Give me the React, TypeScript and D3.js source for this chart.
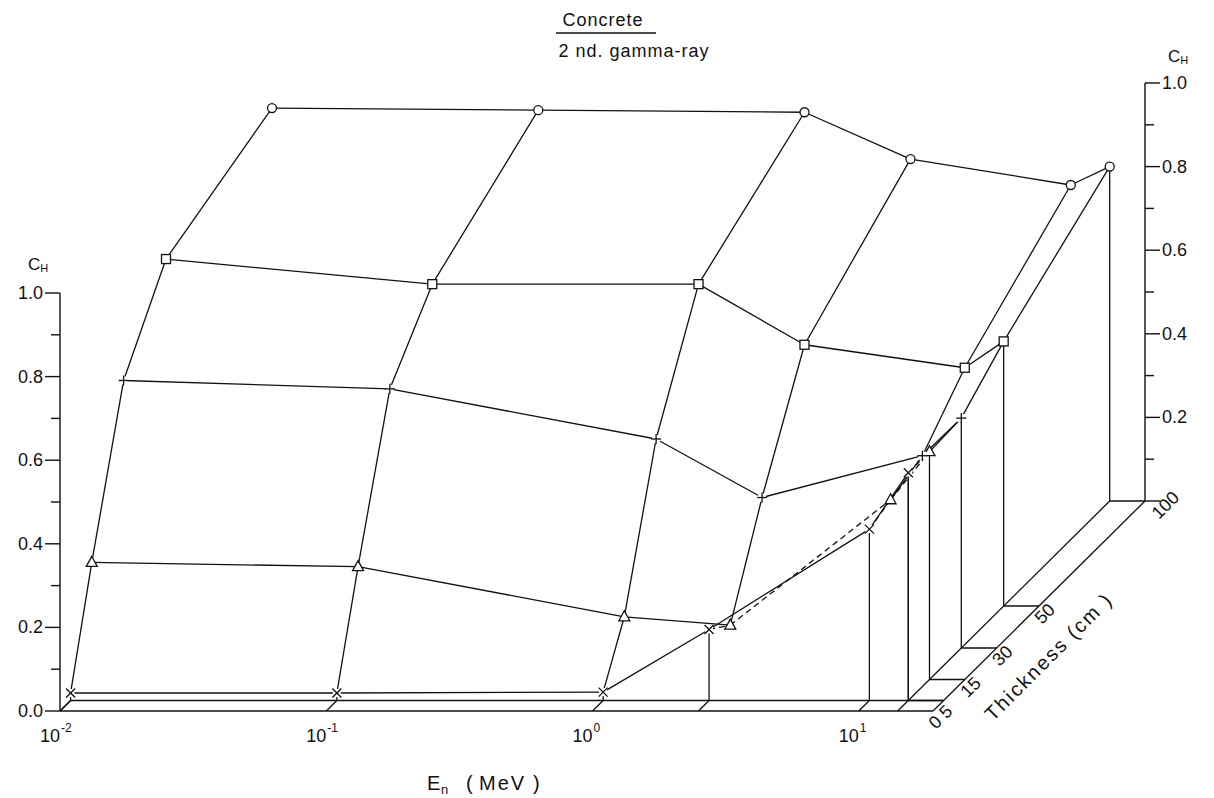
import React from "react";
import * as d3 from "d3";

// neutron energy grid (MeV) and slab thicknesses (cm)
const energies = [0.01, 0.1, 1, 2.5, 10, 14];
const thicknesses = [5, 15, 30, 50, 100];
const depthTicks = [0, 5, 15, 30, 50, 100];
const energyTicks = [0.01, 0.1, 1, 10];
const energyExp = ["-2", "-1", "0", "1"];
const chTicks = [0, 0.1, 0.2, 0.3, 0.4, 0.5, 0.6, 0.7, 0.8, 0.9, 1.0];
const eMax = 19;

// C_H values per thickness row, one per energy
const ch5 = [0.018, 0.018, 0.02, 0.17, 0.41, 0.545];
const ch15 = [0.28, 0.27, 0.15, 0.13, 0.43, 0.545];
const ch30 = [0.64, 0.62, 0.5, 0.36, 0.46, 0.55];
const ch50 = [0.83, 0.77, 0.77, 0.625, 0.57, 0.633];
const ch100 = [0.94, 0.935, 0.93, 0.818, 0.756, 0.8];
const rows = [ch5, ch15, ch30, ch50, ch100];
const markers = ["x", "triangle", "plus", "square", "circle"];

const FONT = "'Liberation Sans', 'DejaVu Sans', sans-serif";
const INK = "#111";

export default function App() {
  const xE = d3.scaleLog().domain([0.01, eMax]).range([60, 933]);
  const yC = d3.scaleLinear().domain([0, 1]).range([711, 293]);
  const dX = d3.scaleLinear().domain([0, 100]).range([0, 212]);
  const dY = d3.scaleLinear().domain([0, 100]).range([0, 210]);

  const proj = (e: number, t: number, c: number): [number, number] => [
    xE(e) + dX(t),
    yC(c) - dY(t),
  ];

  type Seg = { a: [number, number]; b: [number, number]; dashed?: boolean };
  const segs: Seg[] = [];
  const last = energies.length - 1;
  const eLast = energies[last];

  // floor slab
  segs.push({ a: proj(0.01, 0, 0), b: proj(eMax, 0, 0) });
  segs.push({ a: proj(0.01, 5, 0), b: proj(eMax, 5, 0) });
  segs.push({ a: proj(0.01, 0, 0), b: proj(0.01, 5, 0) });
  segs.push({ a: proj(eMax, 0, 0), b: proj(eMax, 100, 0) });
  segs.push({ a: proj(eLast, 5, 0), b: proj(eLast, 100, 0) });
  energies.forEach((e, i) => {
    segs.push({ a: proj(e, 0, 0), b: proj(e, 5, 0) });
    // front curtain
    segs.push({ a: proj(e, 5, 0), b: proj(e, 5, ch5[i]) });
  });
  // right curtain
  thicknesses.forEach((t, r) => {
    segs.push({ a: proj(eLast, t, 0), b: proj(eLast, t, rows[r][last]) });
    segs.push({ a: proj(eLast, t, 0), b: proj(eMax, t, 0) });
  });

  // rows along energy
  rows.forEach((vals, r) => {
    const t = thicknesses[r];
    for (let i = 0; i < last; i++) {
      segs.push({
        a: proj(energies[i], t, vals[i]),
        b: proj(energies[i + 1], t, vals[i + 1]),
        dashed: r === 1 && i >= 3,
      });
    }
  });
  // columns along thickness
  energies.forEach((e, i) => {
    for (let r = 0; r < thicknesses.length - 1; r++) {
      segs.push({
        a: proj(e, thicknesses[r], rows[r][i]),
        b: proj(e, thicknesses[r + 1], rows[r + 1][i]),
        dashed: r === 0 && i >= 3,
      });
    }
  });

  const renderMarker = (kind: string, x: number, y: number, key: string) => {
    const sw = 1.3;
    if (kind === "circle")
      return <circle key={key} cx={x} cy={y} r={4.5} fill="#fff" stroke={INK} strokeWidth={sw} />;
    if (kind === "square")
      return <rect key={key} x={x - 4.5} y={y - 4.5} width={9} height={9} fill="#fff" stroke={INK} strokeWidth={sw} />;
    if (kind === "triangle")
      return (
        <path key={key} d={`M${x},${y - 6}L${x + 5.5},${y + 4}L${x - 5.5},${y + 4}Z`} fill="#fff" stroke={INK} strokeWidth={sw} />
      );
    if (kind === "plus")
      return (
        <g key={key} stroke={INK} strokeWidth={sw}>
          <rect x={x - 4} y={y - 4} width={8} height={8} fill="#fff" stroke="none" />
          <line x1={x - 5} y1={y} x2={x + 5} y2={y} />
          <line x1={x} y1={y - 5} x2={x} y2={y + 5} />
        </g>
      );
    return (
      <g key={key} stroke={INK} strokeWidth={sw}>
        <rect x={x - 4} y={y - 4} width={8} height={8} fill="#fff" stroke="none" />
        <line x1={x - 4.5} y1={y - 4.5} x2={x + 4.5} y2={y + 4.5} />
        <line x1={x - 4.5} y1={y + 4.5} x2={x + 4.5} y2={y - 4.5} />
      </g>
    );
  };

  const leftX = xE(0.01);
  const rightX = xE(eMax) + dX(100);
  const [, backBase] = proj(eMax, 100, 0);

  return (
    <svg width={1214} height={798} style={{ display: "block", position: "absolute", left: 0, top: 0, background: "#fff" }}>
      {/* title */}
      <g fontFamily={FONT} fill={INK} textAnchor="middle">
        <text x={603} y={26} fontSize={18} letterSpacing={1}>Concrete</text>
        <line x1={556} y1={33} x2={656} y2={33} stroke={INK} strokeWidth={1.3} />
        <text x={634} y={57} fontSize={18} letterSpacing={1}>2 nd. gamma-ray</text>
      </g>

      {/* segments */}
      <g stroke={INK} strokeWidth={1.3} fill="none">
        {segs.map((s, i) => (
          <line key={i} x1={s.a[0]} y1={s.a[1]} x2={s.b[0]} y2={s.b[1]} strokeDasharray={s.dashed ? "6,4" : undefined} />
        ))}
      </g>

      {/* left axis */}
      <g stroke={INK} strokeWidth={1.4}>
        <line x1={leftX} y1={yC(0)} x2={leftX} y2={yC(1)} />
        {chTicks.map((c, i) => (
          <line key={i} x1={leftX} y1={yC(c)} x2={leftX - (i % 2 === 0 ? 15 : 9)} y2={yC(c)} />
        ))}
      </g>
      <g fontFamily={FONT} fontSize={18} fill={INK} textAnchor="end">
        {chTicks.filter((_, i) => i % 2 === 0).map((c) => (
          <text key={c} x={leftX - 17} y={yC(c) + 6}>{c.toFixed(1)}</text>
        ))}
      </g>
      <text x={28} y={270} fontFamily={FONT} fontSize={17} fill={INK}>
        C<tspan fontSize={11} dy={2}>H</tspan>
      </text>

      {/* right axis */}
      <g stroke={INK} strokeWidth={1.4}>
        <line x1={rightX} y1={backBase} x2={rightX} y2={yC(1) - dY(100)} />
        {chTicks.map((c, i) => (
          <line key={i} x1={rightX} y1={yC(c) - dY(100)} x2={rightX + (i % 2 === 0 ? 15 : 9)} y2={yC(c) - dY(100)} />
        ))}
      </g>
      <g fontFamily={FONT} fontSize={18} fill={INK} textAnchor="start">
        {chTicks.filter((c, i) => i % 2 === 0 && c > 0).map((c) => (
          <text key={c} x={rightX + 17} y={yC(c) - dY(100) + 6}>{c.toFixed(1)}</text>
        ))}
      </g>
      <text x={1168} y={62} fontFamily={FONT} fontSize={17} fill={INK}>
        C<tspan fontSize={11} dy={2}>H</tspan>
      </text>

      {/* energy axis labels */}
      <g fontFamily={FONT} fill={INK}>
        {energyTicks.map((e, i) => (
          <g key={e}>
            <text x={xE(e)} y={742} fontSize={18} textAnchor="end">10</text>
            <text x={xE(e) + 1} y={732} fontSize={12} textAnchor="start">{energyExp[i]}</text>
          </g>
        ))}
        <text x={427} y={790} fontSize={20}>E</text>
        <text x={441} y={794} fontSize={13}>n</text>
        <text x={466} y={790} fontSize={20}>(</text>
        <text x={479} y={790} fontSize={20} letterSpacing={2}>MeV</text>
        <text x={533} y={790} fontSize={20}>)</text>
      </g>

      {/* thickness labels */}
      <g fontFamily={FONT} fontSize={18} fill={INK}>
        {depthTicks.map((t) => {
          const [x, y] = proj(eMax, t, 0);
          const off = t === 100 ? 14 : 3;
          return (
            <text key={t} transform={`translate(${x + off},${y + 19}) rotate(-45)`}>{t}</text>
          );
        })}
        <text transform={`translate(993,722) rotate(-45)`} fontSize={20} letterSpacing={2}>Thickness (cm )</text>
      </g>

      {/* markers */}
      {rows.map((vals, r) =>
        vals.map((v, i) => {
          const [x, y] = proj(energies[i], thicknesses[r], v);
          return renderMarker(markers[r], x, y, `${r}-${i}`);
        })
      )}
    </svg>
  );
}
